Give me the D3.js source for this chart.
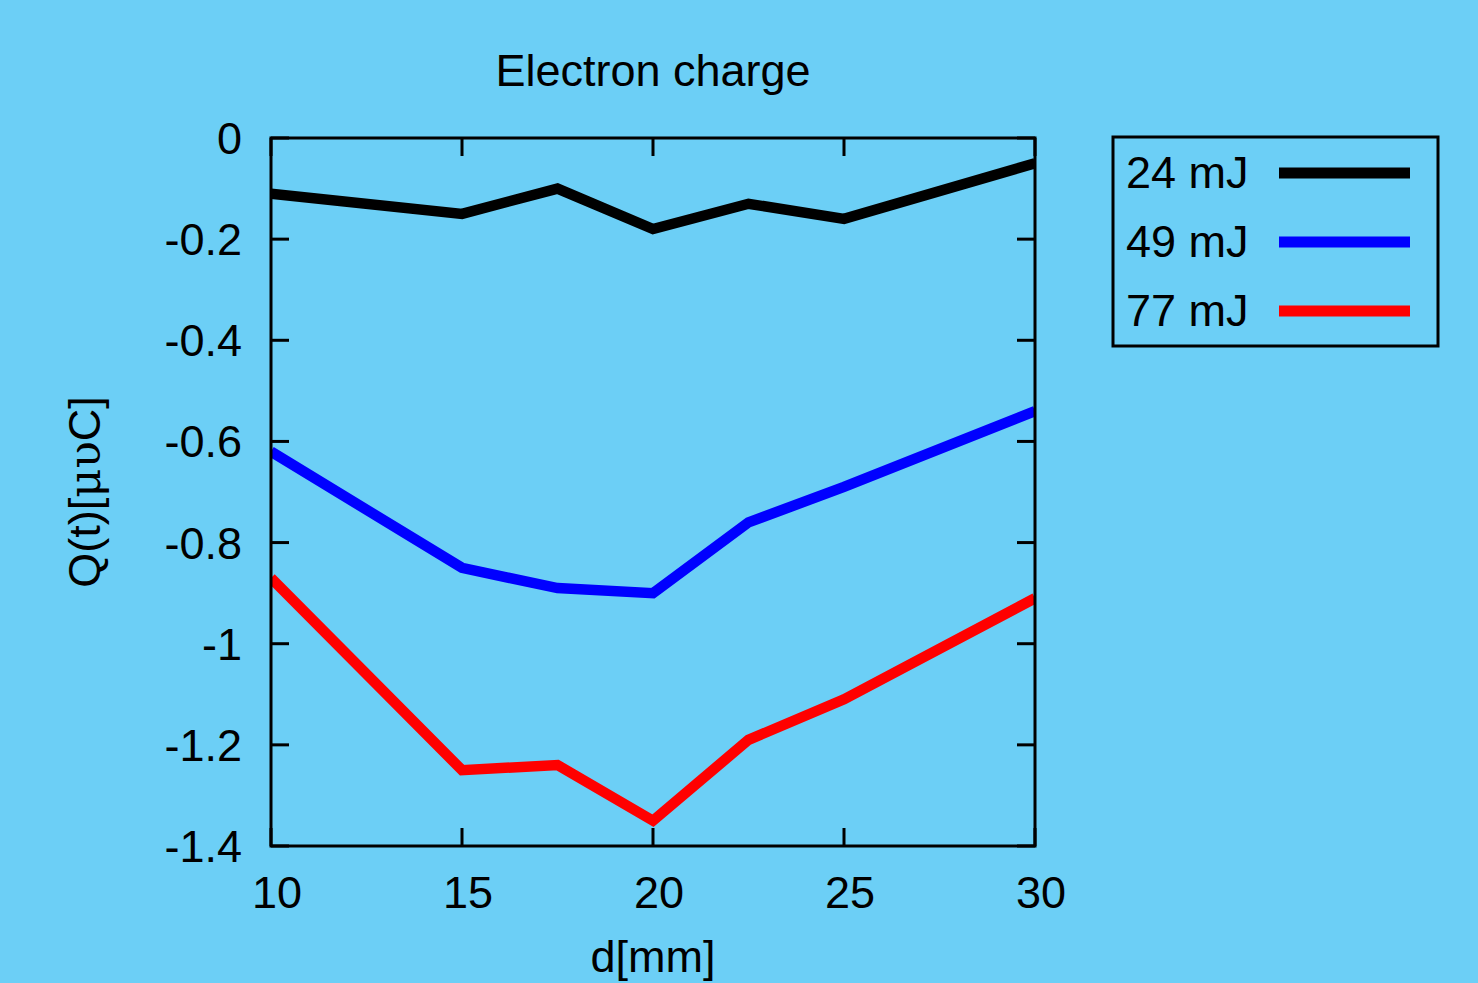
<!DOCTYPE html>
<html><head><meta charset="utf-8">
<script src="https://cdn.jsdelivr.net/npm/d3@7"></script>
<style>html,body{margin:0;padding:0;background:#6ccff6;}svg{display:block;}</style>
</head><body>
<script>
const xValues = [10, 15, 17.5, 20, 22.5, 25, 30];
const series24 = [-0.11, -0.15, -0.10, -0.18, -0.13, -0.16, -0.05];
const series49 = [-0.62, -0.85, -0.89, -0.90, -0.76, -0.69, -0.54];
const series77 = [-0.87, -1.25, -1.24, -1.35, -1.19, -1.11, -0.91];
const seriesNames = ["24 mJ", "49 mJ", "77 mJ"];
const seriesColors = ["#000000", "#0000ff", "#ff0000"];
const xTicks = [10, 15, 20, 25, 30];
const yTicks = [0, -0.2, -0.4, -0.6, -0.8, -1, -1.2, -1.4];

const W = 1478, H = 983;
const L = 271, R = 1035, T = 138, B = 846;
const font = "Liberation Sans, Arial, sans-serif";
const FS = 45;
const svg = d3.select("body").append("svg").attr("width", W).attr("height", H);
svg.append("rect").attr("width", W).attr("height", H).attr("fill", "#6ccff6");

const x = d3.scaleLinear().domain([10, 30]).range([L, R]);
const y = d3.scaleLinear().domain([-1.4, 0]).range([B, T]);

const fmt = v => String(v).replace("−", "-");

// ticks (inward, mirrored)
const tl = 18;
const g = svg.append("g").attr("stroke", "#000").attr("stroke-width", 3);
xTicks.forEach(v => {
  g.append("line").attr("x1", x(v)).attr("x2", x(v)).attr("y1", B).attr("y2", B - tl);
  g.append("line").attr("x1", x(v)).attr("x2", x(v)).attr("y1", T).attr("y2", T + tl);
});
yTicks.forEach(v => {
  g.append("line").attr("x1", L).attr("x2", L + tl).attr("y1", y(v)).attr("y2", y(v));
  g.append("line").attr("x1", R).attr("x2", R - tl).attr("y1", y(v)).attr("y2", y(v));
});

// lines
const data = [series24, series49, series77];
const line = d3.line().x((d, i) => x(xValues[i])).y(d => y(d));
svg.append("clipPath").attr("id", "c").append("rect")
  .attr("x", L).attr("y", T).attr("width", R - L).attr("height", B - T);
data.forEach((s, k) => {
  svg.append("path").datum(s).attr("d", line).attr("fill", "none")
    .attr("stroke", seriesColors[k]).attr("stroke-width", 10.5)
    .attr("stroke-linejoin", "miter").attr("clip-path", "url(#c)");
});

// frame
svg.append("rect").attr("x", L).attr("y", T).attr("width", R - L).attr("height", B - T)
  .attr("fill", "none").attr("stroke", "#000").attr("stroke-width", 3);

// tick labels
xTicks.forEach(v => {
  svg.append("text").attr("x", x(v) + 6).attr("y", 908).attr("text-anchor", "middle")
    .attr("font-family", font).attr("font-size", FS).text(fmt(v));
});
yTicks.forEach(v => {
  svg.append("text").attr("x", 242).attr("y", y(v) + 16).attr("text-anchor", "end")
    .attr("font-family", font).attr("font-size", FS).text(fmt(v));
});

// titles
svg.append("text").attr("x", 653).attr("y", 86).attr("text-anchor", "middle")
  .attr("font-family", font).attr("font-size", FS).text("Electron charge");
svg.append("text").attr("x", 653).attr("y", 972).attr("text-anchor", "middle")
  .attr("font-family", font).attr("font-size", FS).text("d[mm]");
const yl = svg.append("text").attr("transform", "translate(100,492) rotate(-90)")
  .attr("text-anchor", "middle").attr("font-family", font).attr("font-size", FS);
yl.append("tspan").text("Q(t)[");
yl.append("tspan").attr("font-family", "DejaVu Serif, serif").text("μυ");
yl.append("tspan").text("C]");

// legend
svg.append("rect").attr("x", 1113).attr("y", 137).attr("width", 325).attr("height", 209)
  .attr("fill", "none").attr("stroke", "#000").attr("stroke-width", 3);
seriesNames.forEach((n, k) => {
  const cy = 173 + k * 69;
  svg.append("text").attr("x", 1126).attr("y", cy + 15).attr("font-family", font)
    .attr("font-size", FS).text(n);
  svg.append("line").attr("x1", 1279).attr("x2", 1410).attr("y1", cy).attr("y2", cy)
    .attr("stroke", seriesColors[k]).attr("stroke-width", 11);
});
</script>
</body></html>
